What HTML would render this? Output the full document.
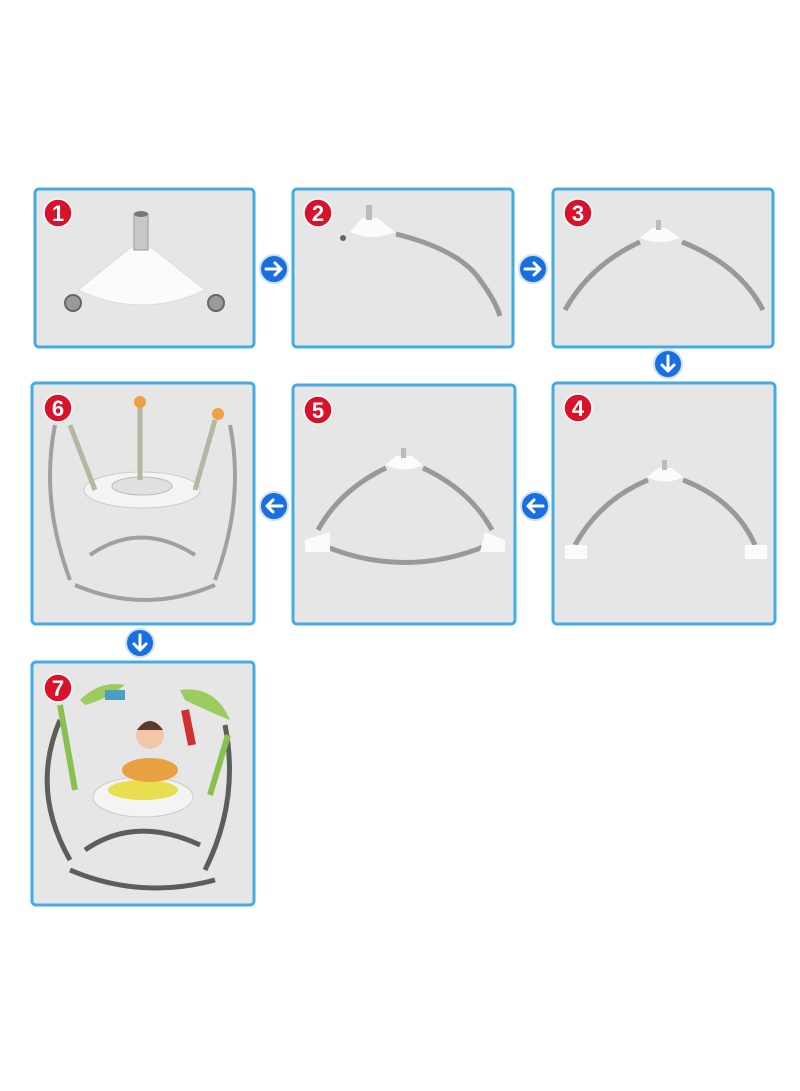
<!DOCTYPE html>
<html><head><meta charset="utf-8"><style>
html,body{margin:0;padding:0;background:#fff;}
svg{display:block}
text{font-family:"Liberation Sans",sans-serif;font-weight:bold}
</style></head><body>
<svg width="800" height="1091" viewBox="0 0 800 1091" xmlns="http://www.w3.org/2000/svg">
<defs>
<g id="badge"><circle r="14" fill="#d8122a" stroke="#fff" stroke-width="1.5"/></g>
<g id="arr"><circle r="14" fill="#1a6fe0" stroke="#cfe0f7" stroke-width="2"/></g>
</defs>
<g fill="#e6e6e6" stroke="#45ace2" stroke-width="3">
<rect x="35" y="189" width="219" height="158" rx="4"/>
<rect x="293" y="189" width="220" height="158" rx="4"/>
<rect x="553" y="189" width="220" height="158" rx="4"/>
<rect x="32" y="383" width="222" height="241" rx="4"/>
<rect x="293" y="385" width="222" height="239" rx="4"/>
<rect x="553" y="383" width="222" height="241" rx="4"/>
<rect x="32" y="662" width="222" height="243" rx="4"/>
</g>
<!-- badges -->
<g fill="#fff" font-size="22" text-anchor="middle">
<use href="#badge" x="58" y="213"/><text x="58" y="221">1</text>
<use href="#badge" x="318" y="213"/><text x="318" y="221">2</text>
<use href="#badge" x="578" y="213"/><text x="578" y="221">3</text>
<use href="#badge" x="58" y="408"/><text x="58" y="416">6</text>
<use href="#badge" x="318" y="410"/><text x="318" y="418">5</text>
<use href="#badge" x="578" y="408"/><text x="578" y="416">4</text>
<use href="#badge" x="58" y="688"/><text x="58" y="696">7</text>
</g>
<!-- arrows -->
<g stroke="#fff" stroke-width="3" fill="none" stroke-linecap="round" stroke-linejoin="round">
<use href="#arr" x="274" y="269"/><path d="M266 269h15M275 263l6 6-6 6"/>
<use href="#arr" x="533" y="269"/><path d="M525 269h15M534 263l6 6-6 6"/>
<use href="#arr" x="668" y="364"/><path d="M668 356v15M662 365l6 6 6-6"/>
<use href="#arr" x="535" y="506"/><path d="M543 506h-15M534 500l-6 6 6 6"/>
<use href="#arr" x="274" y="506"/><path d="M282 506h-15M273 500l-6 6 6 6"/>
<use href="#arr" x="140" y="643"/><path d="M140 635v15M134 644l6 6 6-6"/>
</g>
<!-- 1 -->
<path d="M78 290 L130 248 L152 248 L205 290 Q142 320 78 290Z" fill="#fbfbfb" stroke="#ddd"/>
<rect x="134" y="214" width="14" height="36" fill="#c8c8c8" stroke="#999"/>
<ellipse cx="141" cy="214" rx="7" ry="3" fill="#777"/>
<circle cx="73" cy="303" r="8" fill="#999" stroke="#666" stroke-width="2"/>
<circle cx="216" cy="303" r="8" fill="#999" stroke="#666" stroke-width="2"/>
<!-- 2 -->
<path d="M350 232 L362 218 L378 218 L395 232 Q372 242 350 232Z" fill="#fbfbfb"/>
<rect x="366" y="205" width="6" height="15" fill="#bbb"/>
<path d="M396 234 Q460 250 480 280 Q495 300 500 316" stroke="#999" stroke-width="5" fill="none"/>
<circle cx="343" cy="238" r="3" fill="#666"/>
<!-- 3 -->
<path d="M640 238 L652 228 L666 228 L680 238 Q660 246 640 238Z" fill="#fbfbfb"/>
<rect x="656" y="220" width="5" height="10" fill="#bbb"/>
<path d="M640 242 Q590 265 565 310 M682 242 Q740 265 763 310" stroke="#999" stroke-width="5" fill="none"/>
<!-- 4 -->
<path d="M647 477 L658 468 L672 468 L683 477 Q665 486 647 477Z" fill="#fbfbfb"/>
<rect x="662" y="460" width="5" height="10" fill="#bbb"/>
<path d="M648 480 Q600 500 575 545 M683 480 Q735 500 755 545" stroke="#999" stroke-width="5" fill="none"/>
<rect x="565" y="545" width="22" height="14" fill="#fbfbfb"/><rect x="745" y="545" width="22" height="14" fill="#fbfbfb"/>
<!-- 5 -->
<path d="M385 465 L396 456 L412 456 L423 465 Q404 474 385 465Z" fill="#fbfbfb"/>
<rect x="401" y="448" width="5" height="10" fill="#bbb"/>
<path d="M386 468 Q340 490 318 530 M423 468 Q470 490 492 530 M322 545 Q405 580 488 545" stroke="#999" stroke-width="5" fill="none"/>
<path d="M305 540 l25 -8 v20 h-25z M485 532 l20 8 v12 h-25z" fill="#fbfbfb"/>
<!-- 6 -->
<path d="M55 425 Q40 500 70 580 M230 425 Q245 500 215 580 M75 585 Q145 615 215 585 M90 555 Q140 520 195 555" stroke="#a0a0a0" stroke-width="4" fill="none"/>
<ellipse cx="142" cy="490" rx="58" ry="18" fill="#f4f4f4" stroke="#ccc"/>
<ellipse cx="142" cy="486" rx="30" ry="9" fill="#e0e0e0" stroke="#bbb"/>
<path d="M70 425 L95 490 M140 405 L140 480 M215 420 L195 490" stroke="#b5b8a0" stroke-width="5" fill="none"/>
<circle cx="140" cy="402" r="6" fill="#f0a040"/><circle cx="218" cy="414" r="6" fill="#f0a040"/>
<!-- 7 -->
<path d="M60 720 Q30 790 70 860 M225 725 Q240 800 205 870 M70 870 Q140 900 215 880 M85 850 Q135 815 200 845" stroke="#5a5f5a" stroke-width="5" fill="none"/>
<ellipse cx="143" cy="797" rx="50" ry="20" fill="#f4f4f4" stroke="#ccc"/>
<ellipse cx="143" cy="790" rx="35" ry="10" fill="#e8de50"/>
<ellipse cx="150" cy="770" rx="28" ry="12" fill="#e8a040"/>
<circle cx="150" cy="735" r="14" fill="#f2c6a8"/><path d="M137 730 Q150 712 163 730" fill="#5a3a2a"/>
<path d="M80 700 Q100 680 125 685 Q105 700 85 705Z" fill="#9ccc60"/>
<path d="M180 690 Q215 685 230 720 Q205 710 185 700Z" fill="#9ccc60"/>
<path d="M185 710 L192 745" stroke="#d03030" stroke-width="8"/>
<rect x="105" y="690" width="20" height="10" fill="#4aa0c0"/>
<path d="M60 705 L75 790 M228 735 L210 795" stroke="#8ac050" stroke-width="6"/>
</svg>
</body></html>
